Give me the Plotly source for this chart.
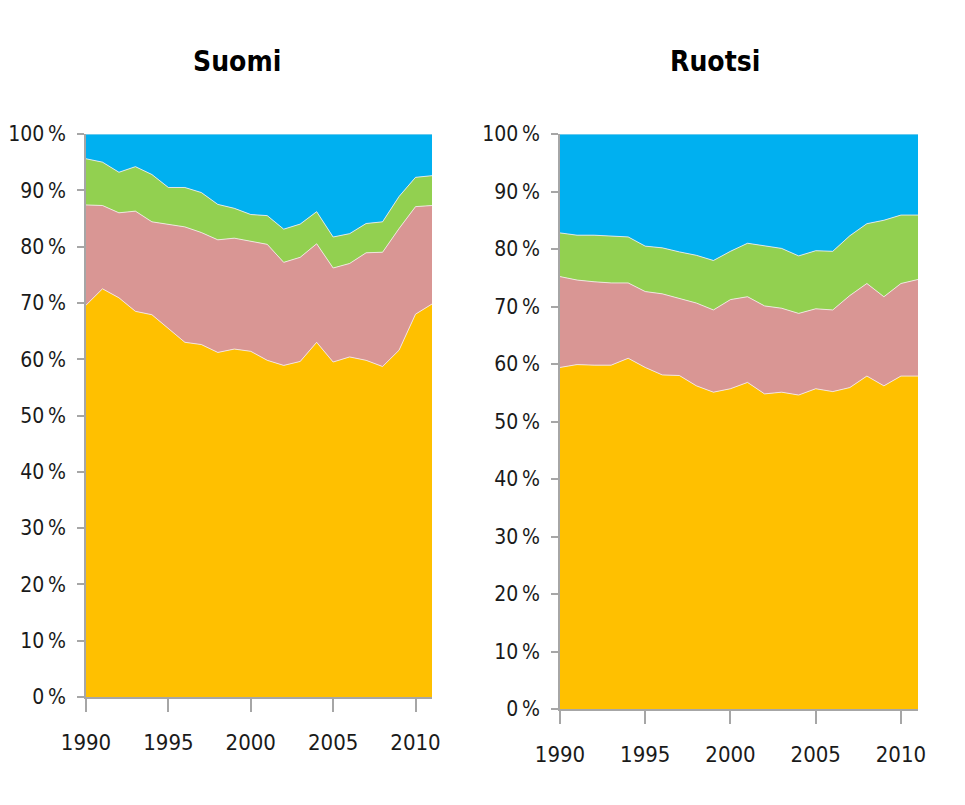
import plotly.graph_objects as go

years = list(range(1990, 2012))

# Suomi, osuudet (%) kerroksittain alhaalta ylös
fi_orange = [69.6, 72.5, 70.9, 68.5, 67.9, 65.5, 63.0, 62.6, 61.2, 61.8, 61.4,
             59.8, 58.9, 59.6, 63.0, 59.5, 60.4, 59.8, 58.7, 61.6, 68.0, 69.8]
fi_pink = [17.8, 14.8, 15.1, 17.8, 16.5, 18.4, 20.5, 19.9, 20.0, 19.7, 19.6,
           20.6, 18.3, 18.5, 17.5, 16.7, 16.6, 19.1, 20.3, 21.6, 19.1, 17.5]
fi_green = [8.2, 7.7, 7.2, 7.9, 8.4, 6.6, 7.0, 7.1, 6.3, 5.3, 4.7,
            5.1, 5.9, 5.9, 5.7, 5.5, 5.3, 5.2, 5.4, 5.7, 5.2, 5.3]
fi_blue = [4.4, 5.0, 6.8, 5.8, 7.2, 9.5, 9.5, 10.4, 12.5, 13.2, 14.3,
           14.5, 16.9, 16.0, 13.8, 18.3, 17.7, 15.9, 15.6, 11.1, 7.7, 7.4]

# Ruotsi
se_orange = [59.4, 59.9, 59.8, 59.8, 61.0, 59.4, 58.1, 58.0, 56.2, 55.1, 55.7,
             56.8, 54.8, 55.1, 54.6, 55.7, 55.2, 55.9, 57.9, 56.2, 57.9, 57.9]
se_pink = [15.8, 14.7, 14.5, 14.3, 13.1, 13.2, 14.1, 13.4, 14.4, 14.3, 15.5,
           14.9, 15.3, 14.6, 14.2, 13.9, 14.2, 16.0, 16.1, 15.5, 16.1, 16.8]
se_green = [7.6, 7.8, 8.1, 8.1, 8.0, 7.9, 8.0, 8.1, 8.3, 8.6, 8.4,
            9.3, 10.5, 10.4, 10.0, 10.1, 10.2, 10.4, 10.4, 13.3, 11.9, 11.2]
se_blue = [17.2, 17.6, 17.6, 17.8, 17.9, 19.5, 19.8, 20.5, 21.1, 22.0, 20.4,
           19.0, 19.4, 19.9, 21.2, 20.3, 20.4, 17.7, 15.6, 15.0, 14.1, 14.1]

y_ticks = [0, 10, 20, 30, 40, 50, 60, 70, 80, 90, 100]
# kapea sitova välilyönti luvun ja %-merkin välissä
y_labels = ["0\u202f%", "10\u202f%", "20\u202f%", "30\u202f%", "40\u202f%", "50\u202f%",
            "60\u202f%", "70\u202f%", "80\u202f%", "90\u202f%", "100\u202f%"]
x_ticks = [1990, 1995, 2000, 2005, 2010]

colors = ["#FFC000", "#D99694", "#92D050", "#00B0F0"]
FONT = "Liberation Sans Narrow, DejaVu Sans Condensed, Arial Narrow, sans-serif"

fig = go.Figure()

panels = [
    ("x", "y", "fi", [fi_orange, fi_pink, fi_green, fi_blue]),
    ("x2", "y2", "se", [se_orange, se_pink, se_green, se_blue]),
]
for xa, ya, grp, layers in panels:
    for vals, col in zip(layers, colors):
        fig.add_trace(go.Scatter(
            x=years, y=vals, xaxis=xa, yaxis=ya,
            stackgroup=grp, mode="lines",
            line=dict(width=1, color="rgba(245,235,235,0.85)"),
            fillcolor=col, showlegend=False,
        ))

W, H = 965, 805
OFF = 8  # sivun oma reunus

def xdom(a, b):
    return [(a - OFF) / W, (b - OFF) / W]

def ydom(top, bottom):
    return [1 - (bottom - OFF) / H, 1 - (top - OFF) / H]

axis_common = dict(
    showgrid=False, zeroline=False, showline=True, automargin=False,
    linecolor="#A6A6A6", linewidth=1.5,
    ticks="outside", tickcolor="#A6A6A6", tickwidth=1.5,
)
xfont = dict(family=FONT, size=22, color="#1a1a1a")
yfont = dict(family=FONT, size=21, color="#1a1a1a")

fig.update_layout(
    width=W, height=H,
    margin=dict(l=0, r=0, t=0, b=0),
    plot_bgcolor="white", paper_bgcolor="white",
    xaxis=dict(domain=xdom(86, 432), range=[1990, 2011], tickvals=x_ticks, tickfont=xfont,
               ticklen=13, ticklabelstandoff=12, anchor="y", **axis_common),
    yaxis=dict(domain=ydom(134, 697), range=[0, 100], tickvals=y_ticks, tickfont=yfont,
               ticktext=y_labels, ticklen=7, ticklabelstandoff=7, anchor="x", **axis_common),
    xaxis2=dict(domain=xdom(560, 918), range=[1990, 2011], tickvals=x_ticks, tickfont=xfont,
                ticklen=13, ticklabelstandoff=12, anchor="y2", **axis_common),
    yaxis2=dict(domain=ydom(134, 709), range=[0, 100], tickvals=y_ticks, tickfont=yfont,
                ticktext=y_labels, ticklen=7, ticklabelstandoff=7, anchor="x2", **axis_common),
    annotations=[
        dict(text="<b>Suomi</b>", x=(237 - OFF) / W, y=1 - (62 - OFF) / H,
             xref="paper", yref="paper", xanchor="center", yanchor="middle",
             showarrow=False, font=dict(family=FONT, size=28, color="black")),
        dict(text="<b>Ruotsi</b>", x=(715 - OFF) / W, y=1 - (62 - OFF) / H,
             xref="paper", yref="paper", xanchor="center", yanchor="middle",
             showarrow=False, font=dict(family=FONT, size=28, color="black")),
    ],
)

fig.write_html("out.html")
